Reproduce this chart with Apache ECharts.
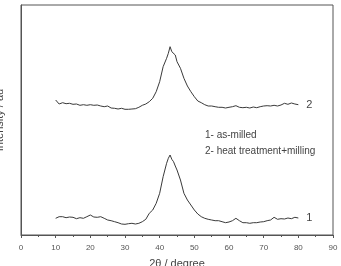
<!DOCTYPE html>
<html>
<head>
<meta charset="utf-8">
<script src="https://cdn.jsdelivr.net/npm/echarts@6/dist/echarts.min.js"></script>
<style>
  html, body { margin: 0; padding: 0; background: #fff; }
  #chart { width: 341px; height: 266px; }
</style>
</head>
<body>
<div id="chart"></div>
<script>
// 2theta positions (degree)
var angles = [10, 11, 12, 13, 14, 15, 16, 17, 18, 19, 20, 21, 22, 23, 24, 25, 26, 27, 28, 29,
  30, 31, 32, 33, 34, 35, 36, 37, 38, 39, 40, 41, 42, 42.5, 43, 43.5, 44, 44.5, 45, 46, 47, 48, 49,
  50, 51, 52, 53, 54, 55, 56, 57, 58, 59, 60, 61, 62, 63, 64, 65, 66, 67, 68, 69,
  70, 71, 72, 73, 74, 75, 76, 77, 78, 79, 80];

// 1- as-milled (offset, arbitrary units)
var asMilled = [16.7, 18.3, 18.3, 17.3, 18, 17.7, 16.3, 17.3, 16.7, 18.3, 20, 18, 17.7, 18.3, 16.7, 15, 14.3, 13.3, 12.3, 11,
  10.7, 11.3, 11.7, 11, 11.7, 13.3, 15.7, 21.7, 25, 31.7, 41.7, 58.3, 71.7, 76.7, 80, 75.7, 73.3, 69, 65, 55, 41.7, 35, 30,
  25, 21, 18.3, 16.7, 15.7, 15, 14.3, 14.3, 13.3, 12.3, 13, 14.3, 16.7, 14.3, 12.3, 12.3, 11.7, 12.3, 12.3, 13,
  13.3, 14.3, 15, 17.7, 15.7, 16.3, 16, 17, 16.3, 17.7, 17];

// 2- heat treatment+milling (offset, arbitrary units)
var heatMilled = [135, 131, 132.3, 131.3, 131.7, 130.7, 131, 129.7, 130.3, 129.7, 130.3, 129.7, 130, 129, 128.3, 129, 127, 126.7, 126, 126.7,
  125.7, 125.7, 126, 126.3, 127.7, 129.7, 131, 133.3, 136.7, 143.3, 153.3, 168.3, 176.7, 181.7, 188.3, 183.3, 184.3, 180, 173.3, 166.7, 156.7, 149, 143.3,
  138.3, 134, 132.3, 130.3, 129, 129, 128.3, 127.7, 127.7, 127, 127.7, 128.3, 129.3, 127.7, 127.3, 127.7, 127, 128, 127.3, 128.3,
  129, 129.3, 129, 129.7, 129, 130, 131.7, 130.7, 132, 131, 130.3];

var xTicks = [0, 10, 20, 30, 40, 50, 60, 70, 80, 90];

var font = 'Liberation Sans, Arial, sans-serif';

function pairs(ys) {
  return angles.map(function (a, i) { return [a, ys[i]]; });
}

function curve(name, ys) {
  return {
    name: name,
    type: 'line',
    data: pairs(ys),
    symbol: 'none',
    smooth: false,
    lineStyle: { color: '#3a3a3a', width: 1 },
    endLabel: {
      show: true,
      formatter: name,
      distance: 8,
      color: '#444',
      fontSize: 11,
      fontFamily: font
    }
  };
}

var chart = echarts.init(document.getElementById('chart'));
chart.setOption({
  animation: false,
  backgroundColor: '#fff',
  grid: {
    left: 21, right: 8, top: 5, bottom: 31,
    outerBoundsMode: 'none',
    containLabel: false,
    show: true, borderColor: '#555', borderWidth: 1
  },
  xAxis: {
    type: 'value',
    min: 0, max: 90, interval: 10,
    name: '2\u03b8 / degree',
    nameLocation: 'middle',
    nameGap: 23,
    nameTextStyle: { color: '#444', fontSize: 11, fontFamily: font },
    axisLine: { lineStyle: { color: '#555' } },
    axisTick: { show: true, length: 3, lineStyle: { color: '#555' } },
    minorTick: { show: true, splitNumber: 2, length: 2, lineStyle: { color: '#555' } },
    axisLabel: {
      color: '#555', fontSize: 8, fontFamily: font, margin: 9,
      formatter: function (v) { return xTicks.indexOf(v) >= 0 ? String(v) : ''; }
    },
    splitLine: { show: false }
  },
  yAxis: {
    type: 'value',
    min: 0, max: 230,
    name: 'Intensity / au',
    nameLocation: 'middle',
    nameGap: 16,
    nameTextStyle: { color: '#444', fontSize: 11, fontFamily: font },
    axisLine: { show: true, lineStyle: { color: '#555' } },
    axisTick: { show: false },
    axisLabel: { show: false },
    splitLine: { show: false }
  },
  graphic: [
    { type: 'text', left: 205, top: 130, style: { text: '1- as-milled', fill: '#444', fontSize: 10, fontFamily: font } },
    { type: 'text', left: 205, top: 146, style: { text: '2- heat treatment+milling', fill: '#444', fontSize: 10, fontFamily: font } }
  ],
  series: [curve('1', asMilled), curve('2', heatMilled)]
});
</script>
</body>
</html>
